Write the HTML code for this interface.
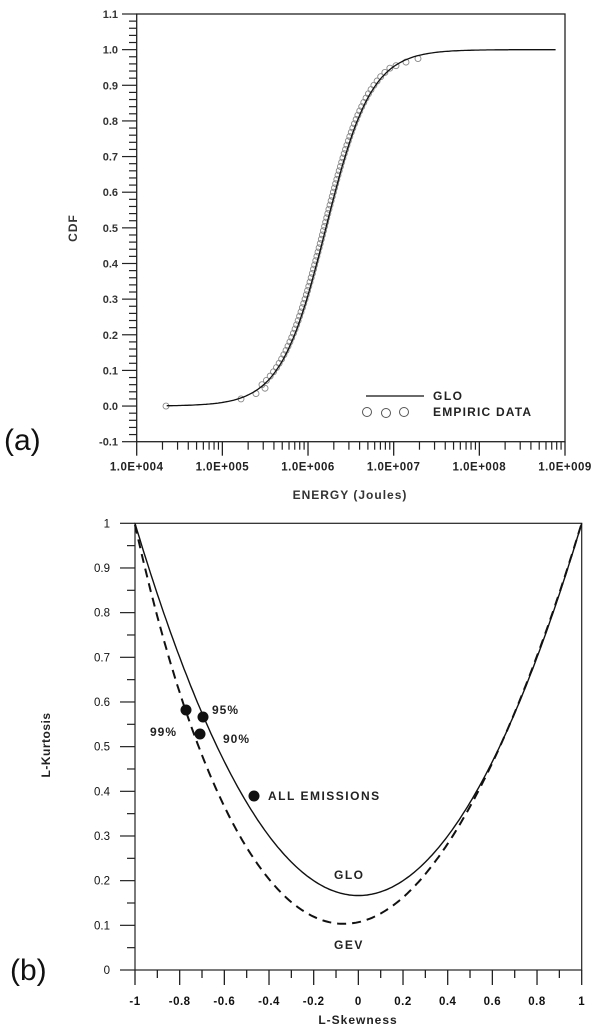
<!DOCTYPE html>
<html><head><meta charset="utf-8"><style>
html,body{margin:0;padding:0;background:#fff;}
svg{display:block;font-family:"Liberation Sans",sans-serif;}
</style></head><body>
<svg id="s" width="607" height="1033" viewBox="0 0 607 1033" xmlns="http://www.w3.org/2000/svg">
<text x="4" y="450" font-size="30" fill="#111">(a)</text>
<text x="10" y="980" font-size="30" fill="#111">(b)</text>
<text transform="translate(77,228) rotate(-90)" font-size="12" fill="#333" text-anchor="middle" letter-spacing="1" font-weight="bold">CDF</text>
<text x="350" y="499" font-size="12" fill="#333" text-anchor="middle" letter-spacing="1" font-weight="bold">ENERGY (Joules)</text>
<text transform="translate(50,745) rotate(-90)" font-size="12" fill="#222" text-anchor="middle" letter-spacing="0.5" font-weight="bold">L-Kurtosis</text>
<text x="358" y="1024" font-size="12" fill="#222" text-anchor="middle" font-weight="bold" letter-spacing="1">L-Skewness</text>
<line x1="366" y1="396" x2="424" y2="396" stroke="#111" stroke-width="1.3"/>
<text x="433" y="400" font-size="12" fill="#222" letter-spacing="1.5" font-weight="bold">GLO</text>
<g fill="none" stroke="#555" stroke-width="1"><circle cx="367" cy="412" r="4.5"/><circle cx="386" cy="413" r="4.5"/><circle cx="404" cy="412" r="4.5"/></g>
<text x="433" y="416" font-size="12" fill="#222" letter-spacing="1.2" font-weight="bold">EMPIRIC DATA</text>
<text x="212" y="714" font-size="12" fill="#222" letter-spacing="1" font-weight="bold">95%</text>
<text x="150" y="736" font-size="12" fill="#222" letter-spacing="1" font-weight="bold">99%</text>
<text x="223" y="743" font-size="12" fill="#222" letter-spacing="1" font-weight="bold">90%</text>
<text x="268" y="800" font-size="12" fill="#222" letter-spacing="1.5" font-weight="bold">ALL EMISSIONS</text>
<text x="334" y="879" font-size="12" fill="#222" letter-spacing="1.5" font-weight="bold">GLO</text>
<text x="334" y="949" font-size="12" fill="#222" letter-spacing="1.5" font-weight="bold">GEV</text>
<g fill="#111"><circle cx="186" cy="710" r="5.5"/><circle cx="203" cy="717" r="5.5"/><circle cx="200" cy="734" r="5.5"/><circle cx="254" cy="796" r="5.5"/></g>
</svg>
<script>
var s=document.getElementById('s'),NS="http://www.w3.org/2000/svg";
function el(t,a,txt){var e=document.createElementNS(NS,t);for(var k in a)e.setAttribute(k,a[k]);if(txt!==undefined)e.textContent=txt;s.appendChild(e);return e;}
function ln(x1,y1,x2,y2,w,c){el('line',{x1:x1,y1:y1,x2:x2,y2:y2,stroke:c||'#222','stroke-width':w||1});}
var L=136.7,R=565,T=14,B=441.7,dec=(R-L)/5,yu=(B-T)/12;
el('rect',{x:L,y:T,width:R-L,height:B-T,fill:'none',stroke:'#222','stroke-width':1.3});
function ya(v){return B-(v+0.1)*10*yu;}
for(var i=0;i<=60;i++){var v=-0.1+i*0.02,y=B-i*yu/5;ln(i%5?129:122,y,L,y,1.2);
 if(i%5==0)el('text',{x:118,y:y+4,'font-size':11,fill:'#333','text-anchor':'end','font-weight':'bold'},(Math.round(v*10)/10).toFixed(1));}
for(var d=0;d<=5;d++){var x=L+d*dec;ln(x,B,x,B+14,1.3);
 el('text',{x:x,y:B+29,'font-size':11.5,fill:'#222','text-anchor':'middle','letter-spacing':'0.5','font-weight':'bold'},'1.0E+00'+(4+d));
 if(d<5)for(var m=2;m<10;m++){var xx=L+(d+Math.log10(m))*dec;ln(xx,B,xx,B+8,1.2);}}
function xa(lg){return L+(lg-4)*dec;}
var mu=6.209,sc=0.264;
function F(lg){return 1/(1+Math.exp(-(lg-mu)/sc));}
var p='';for(var lg=4.35;lg<=8.9;lg+=0.02){p+=(p?'L':'M')+xa(lg).toFixed(1)+','+ya(F(lg)).toFixed(1);}
var g=el('g',{fill:'none',stroke:'#888','stroke-width':0.9});
function c(x,y){var e=document.createElementNS(NS,'circle');e.setAttribute('cx',x);e.setAttribute('cy',y);e.setAttribute('r',3);g.appendChild(e);}
c(166,ya(0));c(241,ya(0.02));c(256,ya(0.035));c(265,ya(0.05));
for(var q=0.06;q<=0.95;q+=0.012){var lg=mu+sc*Math.log(q/(1-q))-0.02;c(xa(lg),ya(q));}
c(396,ya(0.955));c(406,ya(0.965));c(418,ya(0.975));
el('path',{d:p,fill:'none',stroke:'#111','stroke-width':1.3});
var L2=135,R2=581.7,T2=523.3,B2=970;
function xb(t){return L2+(t+1)/2*(R2-L2);}function yb(v){return B2-v*(B2-T2);}
el('rect',{x:L2,y:T2,width:R2-L2,height:B2-T2,fill:'none',stroke:'#222','stroke-width':1.2});
for(var i=0;i<=20;i++){var y=yb(i*0.05);ln(i%2?127:120,y,L2,y,1.2);
 if(i%2==0)el('text',{x:110,y:y+4,'font-size':11.5,fill:'#111','text-anchor':'end'},i==0?'0':i==20?'1':(i/20).toFixed(1));}
for(var i=0;i<=20;i++){var x=xb(-1+i*0.1);ln(x,B2,x,B2+(i%2?8:15),1.3);
 if(i%2==0){var t=-1+i*0.1;t=Math.round(t*10)/10;el('text',{x:x,y:B2+35,'font-size':11.5,fill:'#111','text-anchor':'middle','font-weight':'bold','letter-spacing':'0.5'},t==0?'0':String(t));}}
var pg='',pv='';
for(var t=-1;t<=1.0001;t+=0.01){pg+=(pg?'L':'M')+xb(t).toFixed(1)+','+yb((1+5*t*t)/6).toFixed(1);
 var v=0.10701+0.11090*t+0.84838*t*t-0.06669*t*t*t+0.00567*Math.pow(t,4)-0.04208*Math.pow(t,5)+0.03763*Math.pow(t,6);
 if(t>0.999)v=1;pv+=(pv?'L':'M')+xb(t).toFixed(1)+','+yb(v).toFixed(1);}
el('path',{d:pg,fill:'none',stroke:'#111','stroke-width':1.4});
el('path',{d:pv,fill:'none',stroke:'#111','stroke-width':2,'stroke-dasharray':'9,6'});
</script>
</body></html>
